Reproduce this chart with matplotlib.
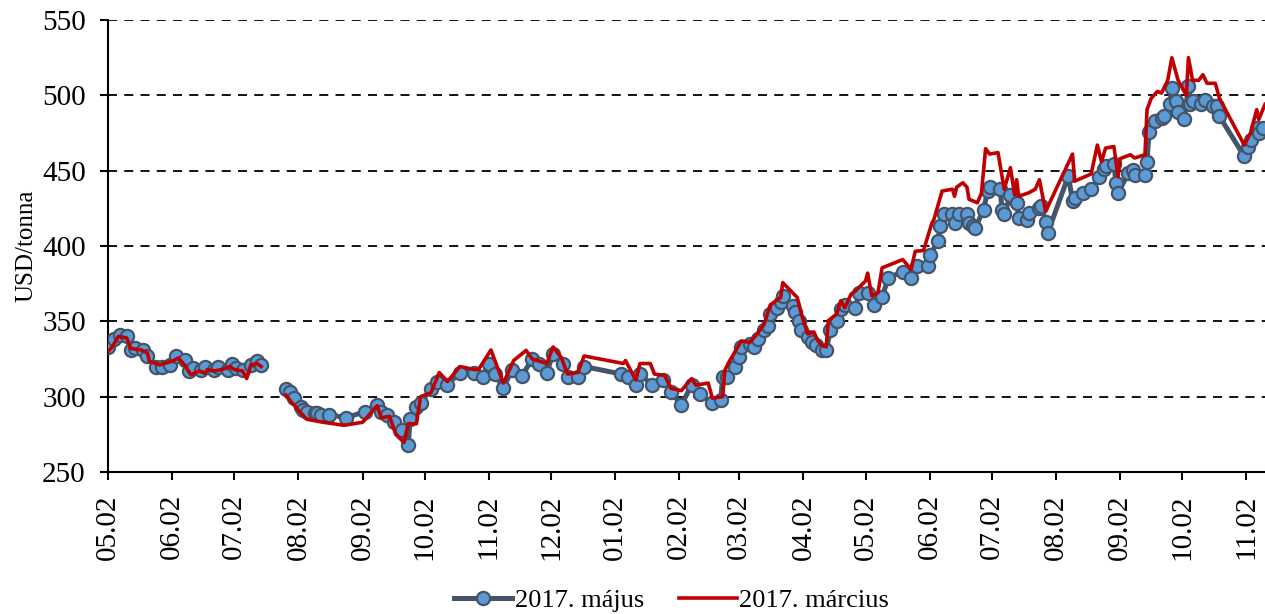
import matplotlib
matplotlib.use("Agg")
import matplotlib.pyplot as plt
import matplotlib.dates as mdates
import numpy as np
import pandas as pd

plt.rcParams['font.family'] = ['Liberation Serif', 'DejaVu Serif']

# ---- data (USD/tonna) ----
may_dates = [
    "2015-05-02", "2015-05-05", "2015-05-08", "2015-05-11", "2015-05-13", "2015-05-15", "2015-05-19",
    "2015-05-21", "2015-05-25", "2015-05-28", "2015-06-01", "2015-06-04", "2015-06-08", "2015-06-10",
    "2015-06-12", "2015-06-16", "2015-06-18", "2015-06-22", "2015-06-24", "2015-06-29", "2015-07-01",
    "2015-07-03", "2015-07-06", "2015-07-10", "2015-07-13", "2015-07-15", "2015-07-20",
    "2015-07-27", "2015-07-29", "2015-07-31", "2015-08-03", "2015-08-04", "2015-08-06", "2015-08-10",
    "2015-08-11", "2015-08-13", "2015-08-17", "2015-08-25", "2015-09-03", "2015-09-09", "2015-09-11",
    "2015-09-14", "2015-09-17", "2015-09-21", "2015-09-24", "2015-09-25", "2015-09-28", "2015-09-30",
    "2015-10-05", "2015-10-08", "2015-10-13", "2015-10-19", "2015-10-26", "2015-10-30", "2015-11-02",
    "2015-11-05", "2015-11-09", "2015-11-13", "2015-11-18", "2015-11-23", "2015-11-26", "2015-11-30",
    "2015-12-03", "2015-12-08", "2015-12-10", "2015-12-15", "2015-12-18",
    "2016-01-05", "2016-01-08", "2016-01-12", "2016-01-14", "2016-01-20", "2016-01-25", "2016-01-29",
    "2016-02-03", "2016-02-08", "2016-02-12", "2016-02-18", "2016-02-22", "2016-02-23", "2016-02-25",
    "2016-02-29", "2016-03-02", "2016-03-03", "2016-03-07", "2016-03-09", "2016-03-11", "2016-03-14",
    "2016-03-16", "2016-03-17", "2016-03-20", "2016-03-22", "2016-03-23", "2016-03-28", "2016-03-29",
    "2016-03-31", "2016-04-01", "2016-04-04", "2016-04-06", "2016-04-08", "2016-04-11", "2016-04-13",
    "2016-04-15", "2016-04-18", "2016-04-20", "2016-04-22", "2016-04-27", "2016-04-29", "2016-05-03",
    "2016-05-06", "2016-05-10", "2016-05-13", "2016-05-20", "2016-05-24", "2016-05-27", "2016-06-01",
    "2016-06-02", "2016-06-06", "2016-06-07", "2016-06-09", "2016-06-13", "2016-06-14", "2016-06-16",
    "2016-06-20", "2016-06-21", "2016-06-23", "2016-06-24", "2016-06-28", "2016-06-30", "2016-07-01",
    "2016-07-06", "2016-07-07", "2016-07-08", "2016-07-11", "2016-07-14", "2016-07-15", "2016-07-19",
    "2016-07-20", "2016-07-25", "2016-07-26", "2016-07-28", "2016-07-29", "2016-08-08", "2016-08-10",
    "2016-08-11", "2016-08-15", "2016-08-19", "2016-08-23", "2016-08-25", "2016-08-26", "2016-08-30",
    "2016-08-31", "2016-09-01", "2016-09-06", "2016-09-08", "2016-09-09", "2016-09-14", "2016-09-15",
    "2016-09-16", "2016-09-19", "2016-09-22", "2016-09-23", "2016-09-26", "2016-09-27", "2016-09-29",
    "2016-09-30", "2016-10-03", "2016-10-05", "2016-10-06", "2016-10-07", "2016-10-11", "2016-10-13",
    "2016-10-17", "2016-10-19", "2016-10-20", "2016-11-01", "2016-11-03", "2016-11-04", "2016-11-07",
    "2016-11-08", "2016-11-10",
]
may_values = [
    333, 338, 341, 340, 331, 332, 331,
    327, 320, 320, 321, 327, 324.5, 317,
    319, 318, 320, 318, 320, 318, 322,
    319, 318, 321, 323.5, 321, np.nan,
    305, 303, 299, 293, 291, 290, 289,
    289, 288, 288, 286, 290, 294.7, 290,
    288, 283.5, 278, 268, 285, 293, 296,
    305, 310, 308, 316, 316, 313, 322,
    315, 305.5, 317.5, 314, 325, 322, 316,
    328.5, 322, 313, 313, 320,
    315, 313, 307.7, 315, 307.7, 311, 303,
    294.5, 307.7, 302, 295.6, 298, 313, 313,
    319.7, 326, 333, 335, 333, 338, 344,
    347, 355, 359, 362.5, 367, 360, 356,
    350.4, 344, 339.5, 336, 334, 330.7, 330.7,
    344, 350.4, 358, 361, 359, 369, 369,
    361, 366, 379, 383, 379, 386.6, 387,
    394, 403, 413, 421, 421, 415, 421,
    421, 415, 413, 412, 424, 436.5, 439,
    437.7, 424, 421, 434, 428.7, 418.6, 417.5,
    422, 425, 426.5, 416, 408.5, 446.6, 430,
    432, 435.4, 437.7, 445.5, 451, 453.4, 454.5,
    442, 435, 448.5, 450.7, 447, 447, 456,
    476, 483, 485, 486, 494, 505, 496,
    489, 484, 506, 494, 496, 494, 497,
    493, 493, 486, 459.5, 466, 470.6, 478,
    475, 478,
]

mar_dates = [
    "2015-05-02", "2015-05-04", "2015-05-07", "2015-05-11", "2015-05-13", "2015-05-18", "2015-05-21",
    "2015-05-22", "2015-05-27", "2015-05-29", "2015-06-02", "2015-06-05", "2015-06-08", "2015-06-11",
    "2015-06-15", "2015-06-18", "2015-06-19", "2015-06-22", "2015-06-26", "2015-06-30", "2015-07-02",
    "2015-07-06", "2015-07-08", "2015-07-10", "2015-07-13", "2015-07-15", "2015-07-20",
    "2015-07-27", "2015-07-28", "2015-08-02", "2015-08-06", "2015-08-14", "2015-08-24", "2015-09-02",
    "2015-09-09", "2015-09-11", "2015-09-15", "2015-09-18", "2015-09-22", "2015-09-24", "2015-09-28",
    "2015-09-30", "2015-10-05", "2015-10-09", "2015-10-13", "2015-10-19", "2015-10-26", "2015-10-28",
    "2015-11-03", "2015-11-09", "2015-11-14", "2015-11-20", "2015-11-23", "2015-11-30", "2015-12-03",
    "2015-12-07", "2015-12-10", "2015-12-15", "2015-12-18",
    "2016-01-06", "2016-01-07", "2016-01-12", "2016-01-14", "2016-01-19", "2016-01-21", "2016-01-26",
    "2016-01-29", "2016-02-03", "2016-02-08", "2016-02-10", "2016-02-16", "2016-02-18", "2016-02-23",
    "2016-02-24", "2016-02-26", "2016-03-03", "2016-03-07", "2016-03-10", "2016-03-14", "2016-03-17",
    "2016-03-22", "2016-03-23", "2016-03-30", "2016-04-01", "2016-04-04", "2016-04-07", "2016-04-09",
    "2016-04-11", "2016-04-13", "2016-04-14", "2016-04-18", "2016-04-20", "2016-04-22", "2016-04-25",
    "2016-04-27", "2016-05-02", "2016-05-03", "2016-05-05", "2016-05-08", "2016-05-10", "2016-05-20",
    "2016-05-24", "2016-05-26", "2016-05-30", "2016-06-03", "2016-06-04", "2016-06-08", "2016-06-13",
    "2016-06-14", "2016-06-15", "2016-06-18", "2016-06-20", "2016-06-21", "2016-06-25", "2016-06-27",
    "2016-06-29", "2016-07-01", "2016-07-05", "2016-07-08", "2016-07-11", "2016-07-13", "2016-07-14",
    "2016-07-15", "2016-07-20", "2016-07-23", "2016-07-25", "2016-07-28", "2016-08-10", "2016-08-11",
    "2016-08-19", "2016-08-22", "2016-08-24", "2016-08-26", "2016-08-30", "2016-09-01", "2016-09-02",
    "2016-09-07", "2016-09-09", "2016-09-14", "2016-09-15", "2016-09-17", "2016-09-20", "2016-09-22",
    "2016-09-25", "2016-09-27", "2016-09-30", "2016-10-04", "2016-10-05", "2016-10-07", "2016-10-10",
    "2016-10-12", "2016-10-14", "2016-10-18", "2016-10-20", "2016-11-01", "2016-11-04", "2016-11-07",
    "2016-11-08", "2016-11-11",
]
mar_values = [
    330, 333, 340, 339, 332, 331, 329,
    323.5, 321, 322, 323.5, 325.7, 321, 314.6,
    317, 315.7, 318, 317, 318, 320, 318,
    317, 312, 321, 322, 320, np.nan,
    301, 299, 291, 285, 283, 281, 283,
    294, 286, 287, 275, 269.6, 282, 282,
    300, 302.6, 316, 310, 320, 318, 318,
    331, 309, 324, 330.7, 325, 322, 333,
    326, 315, 316, 327,
    322, 324, 311, 322, 322, 315, 314,
    305.5, 304, 312, 307.7, 309, 299, 300,
    317.5, 323, 337, 336, 340.6, 348, 361,
    365.8, 375.7, 365.8, 354.8, 341.7, 343, 337,
    334, 333, 350.4, 354.8, 363.6, 359, 368,
    370, 376.8, 382, 367, 369, 385.5, 391,
    384.4, 396.5, 397, 415, 417.5, 436.5, 437.7,
    433, 439, 442, 439, 431, 428.7, 435,
    464.6, 461, 462, 437.7, 452, 434, 444,
    433, 435.4, 437.7, 444, 423, 461, 443,
    447.8, 467, 456, 465, 466, 446, 458,
    460.6, 458.4, 460.6, 490.5, 498, 502.6, 501.5,
    510, 525, 510, 500, 525, 510, 510,
    513.7, 508, 508, 498, 467, 475, 490.5,
    484, 494,
]

series_labels = ["2017. május", "2017. március"]
y_ticks = [250, 300, 350, 400, 450, 500, 550]
y_label = "USD/tonna"

may_x = pd.to_datetime(may_dates)
mar_x = pd.to_datetime(mar_dates)

fig = plt.figure(figsize=(12.65, 6.14), dpi=100)
ax = fig.add_axes([0.0854, 0.2313, 0.9146, 0.7361])

ax.plot(may_x, may_values, color="#44546A", lw=3.6, marker="o", ms=9.5,
        mfc="#5B9BD5", mec="#44546A", mew=1.6, label=series_labels[0], zorder=3)
ax.plot(mar_x, mar_values, color="#C00000", lw=2.6, label=series_labels[1], zorder=4)

ax.set_ylim(250, 550)
ax.set_yticks(y_ticks)
ax.set_xlim(pd.Timestamp("2015-05-02"), pd.Timestamp("2016-11-11"))
ax.xaxis.set_major_locator(mdates.MonthLocator(bymonthday=2))
ax.xaxis.set_major_formatter(mdates.DateFormatter("%m.%d"))

for y in y_ticks[1:]:
    ax.axhline(y, color="black", lw=1.3, ls=(0, (5, 4)), zorder=1)

for s in ["top", "right"]:
    ax.spines[s].set_visible(False)
for s in ["left", "bottom"]:
    ax.spines[s].set_linewidth(1.5)
    ax.spines[s].set_color("black")

ax.tick_params(axis="both", direction="out", length=6, width=1.5, labelsize=21, colors="black")
ax.tick_params(axis="x", pad=10)
ax.tick_params(axis="y", pad=10)
plt.setp(ax.get_xticklabels(), rotation=90)
ax.set_ylabel(y_label, fontsize=18, labelpad=3)

fig.legend(loc="lower center", bbox_to_anchor=(0.531, -0.035), ncol=2, frameon=False,
           fontsize=19, handlelength=2.2, columnspacing=1.3, handletextpad=0.1)

fig.savefig("out.png", dpi=100)
